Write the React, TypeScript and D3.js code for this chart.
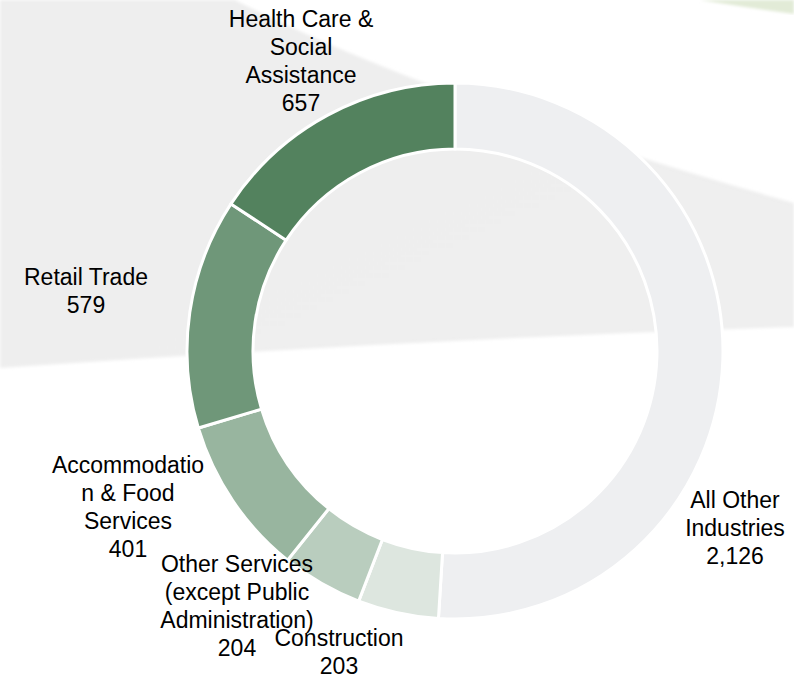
import React from "react";
import * as d3 from "d3";

const categories = [
  "All Other Industries",
  "Construction",
  "Other Services (except Public Administration)",
  "Accommodation & Food Services",
  "Retail Trade",
  "Health Care & Social Assistance",
];
const values = [2126, 203, 204, 401, 579, 657];
const valueLabels = ["2,126", "203", "204", "401", "579", "657"];
const labelLines = [
  ["All Other", "Industries"],
  ["Construction"],
  ["Other Services", "(except Public", "Administration)"],
  ["Accommodatio", "n & Food", "Services"],
  ["Retail Trade"],
  ["Health Care &", "Social", "Assistance"],
];
const colors = ["#eeeff1", "#dde6df", "#b9cdbe", "#98b59f", "#6f9779", "#53825e"];

// layout (label block centre offsets from donut centre)
const labelOffsets = [
  [280, 177],
  [-116, 301],
  [-218, 255],
  [-327, 156],
  [-369, -60],
  [-154, -290],
];

const W = 794;
const H = 681;
const cx = 455;
const cy = 351;
const outerR = 268;
const innerR = 202;
const fontSize = 23;
const lineH = 27.7;

export default function App() {
  const pie = d3
    .pie<number>()
    .sort(null)
    .value((d) => d)
    .startAngle(0)
    .endAngle(2 * Math.PI);
  const arcs = pie(values);
  const arcGen = d3.arc<d3.PieArcDatum<number>>().innerRadius(innerR).outerRadius(outerR);

  const grayPath = `M0,0 L235,0 Q430,100 ${W},203 L${W},327 Q400,340 0,368 Z`;
  const greenPath = `M700,0 Q750,8 ${W},14 L${W},0 Z`;

  return (
    <svg
      width={W}
      height={H}
      style={{ position: "absolute", left: 0, top: 0, background: "#ffffff" }}
      fontFamily="'Liberation Sans', Arial, sans-serif"
    >
      <defs>
        <filter id="soft" x="-5%" y="-5%" width="110%" height="110%">
          <feGaussianBlur stdDeviation="1.5" />
        </filter>
        <linearGradient id="grayGrad" x1="0" y1="0" x2="1" y2="1">
          <stop offset="0" stopColor="#eeeeee" />
          <stop offset="1" stopColor="#efefef" />
        </linearGradient>
      </defs>
      <rect x={0} y={0} width={W} height={H} fill="#ffffff" />
      <path d={grayPath} fill="url(#grayGrad)" filter="url(#soft)" />
      <path d={greenPath} fill="#e2ebd7" filter="url(#soft)" />
      <g transform={`translate(${cx},${cy})`}>
        {arcs.map((a, i) => (
          <path
            key={categories[i]}
            d={arcGen(a) || ""}
            fill={colors[i]}
            stroke="#ffffff"
            strokeWidth={3}
          />
        ))}
      </g>
      <g fontSize={fontSize} fill="#000000" textAnchor="middle">
        {categories.map((c, i) => {
          const lines = [...labelLines[i], valueLabels[i]];
          const [dx, dy] = labelOffsets[i];
          const x = cx + dx;
          const meanBaseline = cy + dy + 8;
          const first = meanBaseline - ((lines.length - 1) * lineH) / 2;
          return (
            <text key={c} x={x} y={first}>
              {lines.map((l, j) => (
                <tspan key={j} x={x} y={first + j * lineH}>
                  {l}
                </tspan>
              ))}
            </text>
          );
        })}
      </g>
    </svg>
  );
}
